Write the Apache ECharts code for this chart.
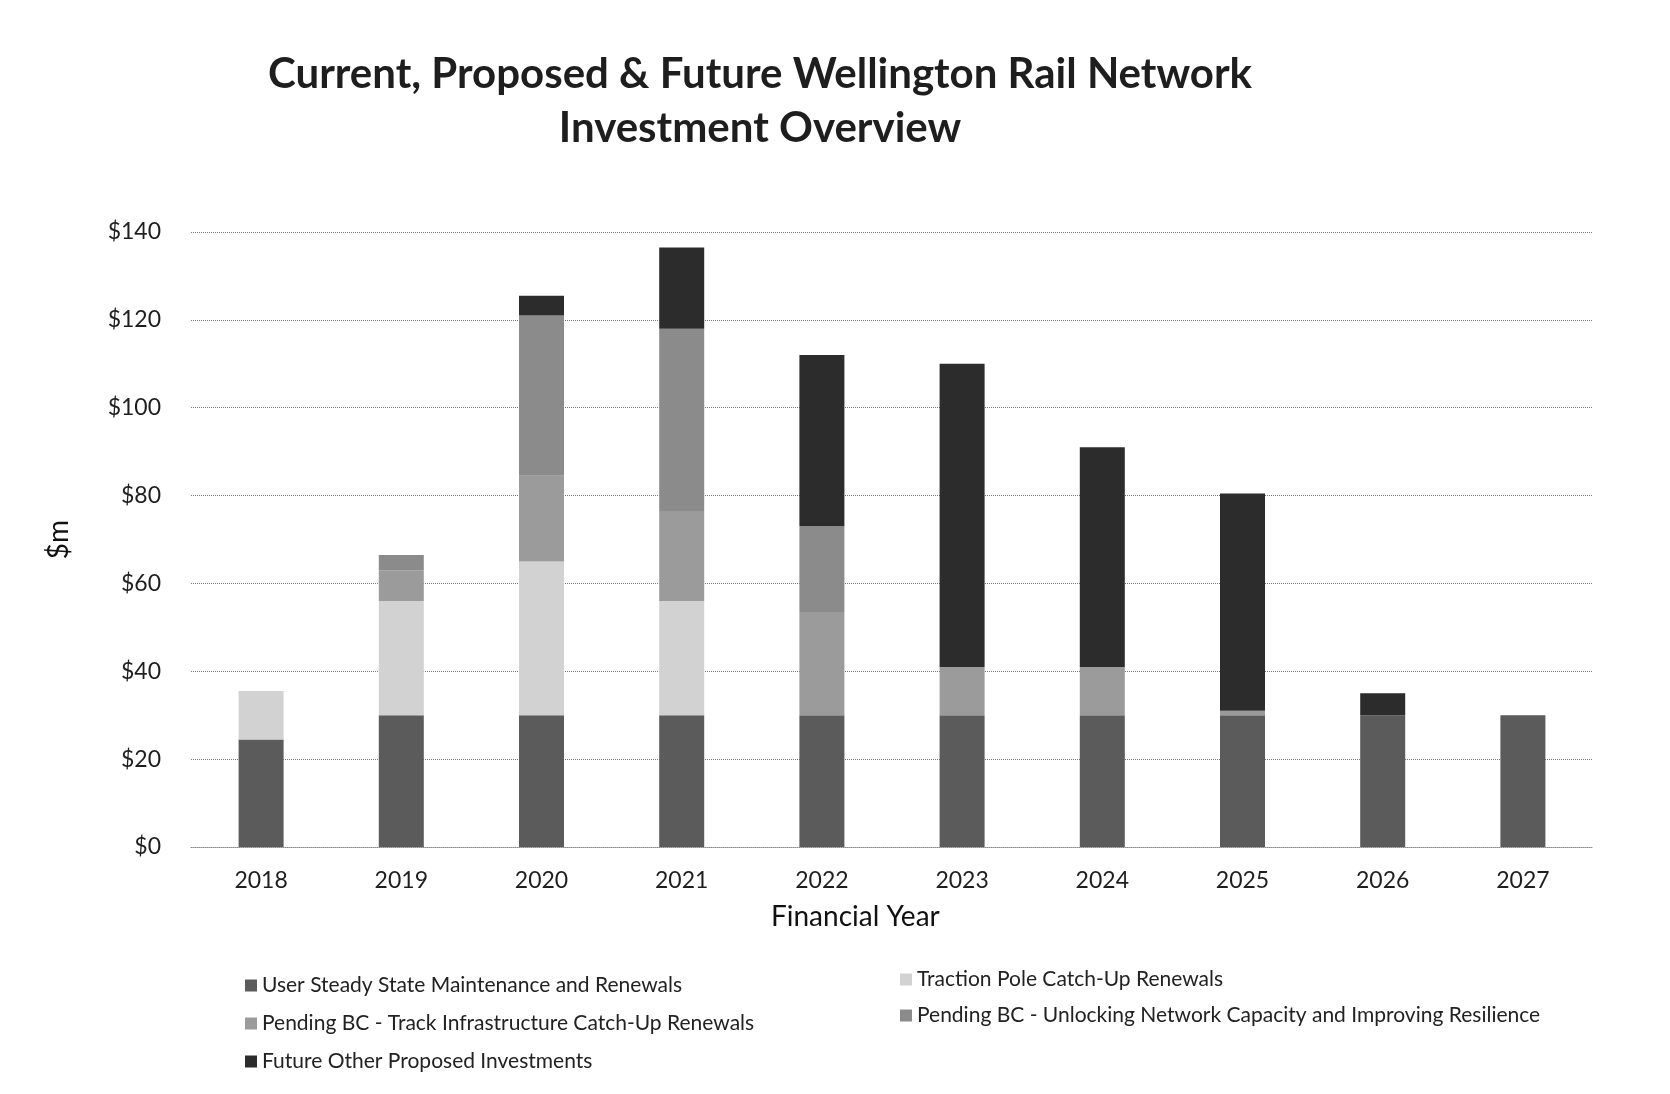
<!DOCTYPE html>
<html><head><meta charset="utf-8">
<script src="https://cdn.jsdelivr.net/npm/echarts@6/dist/echarts.min.js"></script>
<style>html,body{margin:0;padding:0;background:#fff}#c{width:1670px;height:1094px}</style>
</head><body><div id="c"></div>
<script>
const years = ['2018','2019','2020','2021','2022','2023','2024','2025','2026','2027'];
const userSteady = [24.5, 30, 30, 30, 30, 30, 30, 30, 30, 30];
const tractionPole = [11, 26, 35, 26, 0, 0, 0, 0, 0, 0];
const trackInfra = [0, 7, 19.5, 20.5, 23.5, 11, 11, 1, 0, 0];
const unlocking = [0, 3.5, 36.5, 41.5, 19.5, 0, 0, 0, 0, 0];
const futureOther = [0, 0, 4.5, 18.5, 39, 69, 50, 49.5, 5, 0];
const yTicks = [0, 20, 40, 60, 80, 100, 120, 140];

const names = ['User Steady State Maintenance and Renewals','Traction Pole Catch-Up Renewals','Pending BC - Track Infrastructure Catch-Up Renewals','Pending BC - Unlocking Network Capacity and Improving Resilience','Future Other Proposed Investments'];
const colors = ['#5b5b5b','#d2d2d2','#9b9b9b','#8b8b8b','#2c2c2c'];
const datas = [userSteady, tractionPole, trackInfra, unlocking, futureOther];
const font = 'Lato, "Open Sans", sans-serif';

const chart = echarts.init(document.getElementById('c'));
chart.setOption({
  backgroundColor: '#fff',
  animation: false,
  title: {
    text: 'Current, Proposed & Future Wellington Rail Network\nInvestment Overview',
    left: 755, top: 42, textAlign: 'center',
    textStyle: {fontFamily: font, fontSize: 42, fontWeight: 'bold', color: '#1e1e1e', lineHeight: 54}
  },
  graphic: [{
    type: 'text', left: 866 - 95, top: 903,
    style: {text: 'Financial Year', fontFamily: font, fontSize: 28, fill: '#111'}
  }],
  legend: [
    {data: [names[0], names[2], names[4]], orient: 'vertical', left: 240, top: 970, itemGap: 17,
     itemWidth: 12, itemHeight: 12, icon: 'rect', textStyle: {fontFamily: font, fontSize: 21, color: '#222'}},
    {data: [names[1], names[3]], orient: 'vertical', left: 895, top: 964, itemGap: 15,
     itemWidth: 12, itemHeight: 12, icon: 'rect', textStyle: {fontFamily: font, fontSize: 21, color: '#222'}}
  ],
  grid: {left: 191, right: 77, top: 232, bottom: 1094 - 847},
  xAxis: {
    type: 'category', data: years,
    axisLine: {lineStyle: {color: '#888', type: 'dotted', width: 1}},
    axisTick: {show: false},
    axisLabel: {fontFamily: font, fontSize: 23, color: '#1e1e1e', margin: 22}
  },
  yAxis: {
    type: 'value', min: 0, max: 140, interval: 20,
    name: '$m', nameLocation: 'middle', nameGap: 118, nameRotate: 90,
    nameTextStyle: {fontFamily: font, fontSize: 28, color: '#111'},
    axisLine: {show: false}, axisTick: {show: false},
    axisLabel: {fontFamily: font, fontSize: 23, color: '#1e1e1e', margin: 30,
      formatter: v => yTicks.includes(v) ? '$' + v : ''},
    splitLine: {lineStyle: {color: '#777', type: 'dotted', width: 1}}
  },
  series: datas.map((d, i) => ({
    name: names[i], type: 'bar', stack: 'total', data: d, barWidth: 45,
    itemStyle: {color: colors[i]}
  }))
});
</script></body></html>
